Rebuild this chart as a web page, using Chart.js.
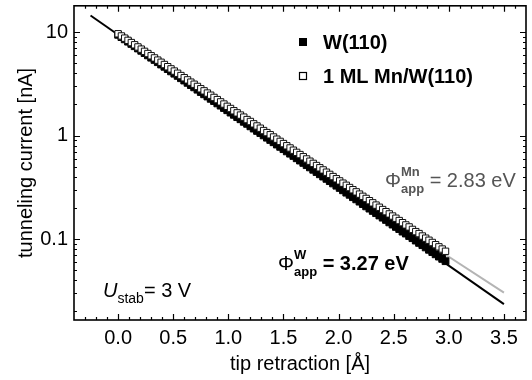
<!DOCTYPE html>
<html>
<head>
<meta charset="utf-8">
<script src="https://cdn.jsdelivr.net/npm/chart.js@4.4.0/dist/chart.umd.min.js"></script>
<style>
  html, body { margin: 0; padding: 0; background: #fff; }
</style>
</head>
<body>
<canvas id="tunnelChart" width="532" height="380"></canvas>
<script>
// tip retraction [Å] of the measured points
const retraction = [
    0.00, 0.03, 0.06, 0.09, 0.12, 0.15, 0.18, 0.21, 0.24, 0.27,
    0.30, 0.33, 0.36, 0.39, 0.42, 0.45, 0.48, 0.51, 0.54, 0.57,
    0.60, 0.63, 0.66, 0.69, 0.72, 0.75, 0.78, 0.81, 0.84, 0.87,
    0.90, 0.93, 0.96, 0.99, 1.02, 1.05, 1.08, 1.11, 1.14, 1.17,
    1.20, 1.23, 1.26, 1.29, 1.32, 1.35, 1.38, 1.41, 1.44, 1.47,
    1.50, 1.53, 1.56, 1.59, 1.62, 1.65, 1.68, 1.71, 1.74, 1.77,
    1.80, 1.83, 1.86, 1.89, 1.92, 1.95, 1.98, 2.01, 2.04, 2.07,
    2.10, 2.13, 2.16, 2.19, 2.22, 2.25, 2.28, 2.31, 2.34, 2.37,
    2.40, 2.43, 2.46, 2.49, 2.52, 2.55, 2.58, 2.61, 2.64, 2.67,
    2.70, 2.73, 2.76, 2.79, 2.82, 2.85, 2.88, 2.91, 2.94, 2.97
];
// tunneling current [nA] on W(110)
const currentW = [
    9.44, 8.97, 8.53, 8.10, 7.70, 7.32, 6.96, 6.61, 6.28, 5.97,
    5.67, 5.39, 5.13, 4.87, 4.63, 4.40, 4.18, 3.97, 3.78, 3.59,
    3.41, 3.24, 3.08, 2.93, 2.78, 2.64, 2.51, 2.39, 2.27, 2.16,
    2.05, 1.95, 1.85, 1.76, 1.67, 1.59, 1.51, 1.44, 1.36, 1.30,
    1.23, 1.17, 1.11, 1.06, 1.005, 0.955, 0.908, 0.863, 0.820, 0.779,
    0.740, 0.704, 0.669, 0.636, 0.604, 0.574, 0.545, 0.518, 0.493, 0.468,
    0.445, 0.423, 0.402, 0.382, 0.363, 0.345, 0.328, 0.312, 0.296, 0.281,
    0.268, 0.254, 0.242, 0.230, 0.218, 0.207, 0.197, 0.187, 0.178, 0.169,
    0.161, 0.153, 0.145, 0.138, 0.131, 0.125, 0.118, 0.113, 0.107, 0.102,
    0.0967, 0.0918, 0.0873, 0.0830, 0.0788, 0.0749, 0.0712, 0.0677, 0.0643, 0.0611
];
// tunneling current [nA] on 1 ML Mn/W(110)
const currentMn = [
    9.66, 9.20, 8.76, 8.34, 7.94, 7.56, 7.20, 6.86, 6.53, 6.22,
    5.92, 5.64, 5.37, 5.12, 4.87, 4.64, 4.42, 4.21, 4.01, 3.81,
    3.63, 3.46, 3.29, 3.14, 2.99, 2.84, 2.71, 2.58, 2.46, 2.34,
    2.23, 2.12, 2.02, 1.92, 1.83, 1.74, 1.66, 1.58, 1.51, 1.43,
    1.37, 1.30, 1.24, 1.18, 1.12, 1.07, 1.02, 0.970, 0.924, 0.880,
    0.838, 0.798, 0.760, 0.723, 0.689, 0.656, 0.625, 0.595, 0.566, 0.539,
    0.514, 0.489, 0.466, 0.443, 0.422, 0.402, 0.383, 0.365, 0.347, 0.331,
    0.315, 0.300, 0.286, 0.272, 0.259, 0.247, 0.235, 0.224, 0.213, 0.203,
    0.193, 0.184, 0.175, 0.167, 0.159, 0.151, 0.144, 0.137, 0.131, 0.124,
    0.118, 0.113, 0.107, 0.102, 0.0974, 0.0927, 0.0883, 0.0841, 0.0801, 0.0762
];
// exponential fits (end points)
const fitWx = [-0.25, 3.5];
const fitWy = [14.5, 0.0235];
const fitMnX = [2.85, 3.5];
const fitMnY = [0.0857, 0.0304];

// axis ticks
const xTicks = [0.0, 0.5, 1.0, 1.5, 2.0, 2.5, 3.0, 3.5];
const xMinor = [-0.3, -0.2, -0.1, 0.1, 0.2, 0.3, 0.4, 0.6, 0.7, 0.8, 0.9,
    1.1, 1.2, 1.3, 1.4, 1.6, 1.7, 1.8, 1.9, 2.1, 2.2, 2.3, 2.4,
    2.6, 2.7, 2.8, 2.9, 3.1, 3.2, 3.3, 3.4, 3.6];
const yTicks = [0.1, 1, 10];
const yMinor = [0.02, 0.03, 0.04, 0.05, 0.06, 0.07, 0.08, 0.09,
    0.2, 0.3, 0.4, 0.5, 0.6, 0.7, 0.8, 0.9,
    2, 3, 4, 5, 6, 7, 8, 9];

const toPoints = (xs, ys) => xs.map((x, i) => ({ x: x, y: ys[i] }));

// draws text pieces one after another, sub/superscripts share their start
function drawParts(ctx, x, y, parts, color) {
    ctx.fillStyle = color;
    ctx.textBaseline = 'alphabetic';
    ctx.textAlign = 'left';
    let cx = x;
    let stackW = 0;
    parts.forEach(p => {
        ctx.font = p.font;
        const w = ctx.measureText(p.text).width;
        if (p.stack) {
            ctx.fillText(p.text, cx, y + p.dy);
            stackW = Math.max(stackW, w);
        } else {
            cx += stackW;
            stackW = 0;
            ctx.fillText(p.text, cx, y + (p.dy || 0));
            cx += w;
        }
    });
}

const framePlugin = {
    id: 'frame',
    afterDraw(chart) {
        const ctx = chart.ctx;
        const a = chart.chartArea;
        const xs = chart.scales.x;
        const ys = chart.scales.y;
        ctx.save();
        ctx.strokeStyle = '#000';
        ctx.lineWidth = 1.6;
        ctx.strokeRect(a.left, a.top, a.right - a.left, a.bottom - a.top);

        ctx.lineWidth = 1.2;
        ctx.beginPath();
        const tickX = (v, len) => {
            const px = Math.round(xs.getPixelForValue(v)) + 0.5;
            ctx.moveTo(px, a.bottom); ctx.lineTo(px, a.bottom - len);
            ctx.moveTo(px, a.top); ctx.lineTo(px, a.top + len);
        };
        const tickY = (v, len) => {
            const py = Math.round(ys.getPixelForValue(v)) + 0.5;
            ctx.moveTo(a.left, py); ctx.lineTo(a.left + len, py);
            ctx.moveTo(a.right, py); ctx.lineTo(a.right - len, py);
        };
        xTicks.forEach(v => tickX(v, 6));
        xMinor.forEach(v => tickX(v, 3));
        yTicks.forEach(v => tickY(v, 6));
        yMinor.forEach(v => tickY(v, 3));
        ctx.stroke();

        // legend
        ctx.fillStyle = '#000';
        ctx.fillRect(299, 38, 8, 8);
        ctx.lineWidth = 1.2;
        ctx.strokeRect(299.5, 72.5, 7, 7);
        ctx.font = 'bold 20px "Liberation Sans", Arial, sans-serif';
        ctx.textBaseline = 'middle';
        ctx.fillText('W(110)', 323, 43);
        ctx.fillText('1 ML Mn/W(110)', 323, 77);

        // annotations
        const reg = '20px "Liberation Sans", Arial, sans-serif';
        const small = 'bold 13px "Liberation Sans", Arial, sans-serif';
        drawParts(ctx, 385, 187, [
            { text: 'Φ', font: reg },
            { text: 'Mn', font: small, dy: -11, stack: true },
            { text: 'app', font: small, dy: 6, stack: true },
            { text: ' = 2.83 eV', font: reg }
        ], '#555');
        drawParts(ctx, 278, 270, [
            { text: 'Φ', font: reg },
            { text: 'W', font: small, dy: -11, stack: true },
            { text: 'app', font: small, dy: 6, stack: true },
            { text: ' = 3.27 eV', font: 'bold ' + reg }
        ], '#000');
        drawParts(ctx, 103, 297, [
            { text: 'U', font: 'italic ' + reg },
            { text: 'stab', font: '14px "Liberation Sans", Arial, sans-serif', dy: 6 },
            { text: '= 3 V', font: reg }
        ], '#000');
        ctx.restore();
    }
};

const tickFont = { family: '"Liberation Sans", Arial, sans-serif', size: 20 };

const ctx = document.getElementById('tunnelChart').getContext('2d');
const tunnelChart = new Chart(ctx, {
    type: 'scatter',
    data: {
        datasets: [
            {
                label: '1 ML Mn/W(110)',
                data: toPoints(retraction, currentMn),
                pointStyle: 'rect',
                pointRadius: 4.5,
                backgroundColor: '#fff',
                borderColor: '#111',
                borderWidth: 1,
                order: 1
            },
            {
                label: 'W(110)',
                data: toPoints(retraction, currentW),
                pointStyle: 'rect',
                pointRadius: 4.8,
                backgroundColor: '#000',
                borderColor: '#000',
                borderWidth: 1,
                order: 2
            },
            {
                label: 'fit Mn',
                data: toPoints(fitMnX, fitMnY),
                showLine: true,
                pointRadius: 0,
                borderColor: '#b4b4b4',
                borderWidth: 2,
                order: 3
            },
            {
                label: 'fit W',
                data: toPoints(fitWx, fitWy),
                showLine: true,
                pointRadius: 0,
                borderColor: '#000',
                borderWidth: 2,
                order: 4
            }
        ]
    },
    options: {
        responsive: false,
        animation: false,
        devicePixelRatio: 1,
        layout: { padding: { top: 5, right: 6, left: 0, bottom: 0 } },
        plugins: {
            legend: { display: false },
            tooltip: { enabled: false }
        },
        scales: {
            x: {
                type: 'linear',
                min: -0.4,
                max: 3.7,
                afterBuildTicks: scale => { scale.ticks = xTicks.map(v => ({ value: v })); },
                afterFit: scale => { scale.height = 60; scale.paddingLeft = 0; scale.paddingRight = 0; },
                grid: { display: false, drawTicks: false },
                border: { display: false },
                ticks: {
                    color: '#000',
                    font: tickFont,
                    padding: 6,
                    maxRotation: 0,
                    callback: v => v.toFixed(1)
                },
                title: {
                    display: true,
                    text: 'tip retraction [Å]',
                    color: '#000',
                    font: tickFont,
                    padding: { top: 0, bottom: 4 }
                }
            },
            y: {
                type: 'logarithmic',
                min: 0.0165,
                max: 18,
                afterBuildTicks: scale => { scale.ticks = yTicks.map(v => ({ value: v })); },
                afterFit: scale => { scale.width = 74; scale.paddingTop = 0; scale.paddingBottom = 0; },
                grid: { display: false, drawTicks: false },
                border: { display: false },
                ticks: {
                    color: '#000',
                    font: tickFont,
                    padding: 6,
                    callback: v => String(v)
                },
                title: {
                    display: true,
                    text: 'tunneling current [nA]',
                    color: '#000',
                    font: tickFont,
                    padding: { top: 14, bottom: 0 }
                }
            }
        }
    },
    plugins: [framePlugin]
});
</script>
</body>
</html>
